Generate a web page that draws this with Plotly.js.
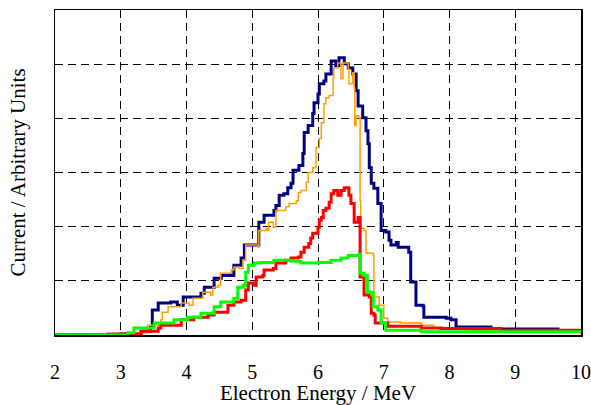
<!DOCTYPE html>
<html>
<head>
<meta charset="utf-8">
<script src="https://cdn.plot.ly/plotly-3.0.1.min.js"></script>
<style>html,body{margin:0;padding:0;background:#fff;}#chart{width:591px;height:405px;}</style>
</head>
<body>
<div id="chart"></div>
<script>
// Electron energy (MeV) and current (arbitrary units) for each series
const navyX = [2.0,2.70,3.00,3.31,3.45,3.48,3.57,3.76,3.86,3.95,4.22,4.27,4.42,4.53,4.72,4.83,4.88,5.03,5.10,5.18,5.24,5.33,5.36,5.41,5.48,5.54,5.59,5.62,5.71,5.77,5.79,5.85,5.92,5.94,6.00,6.02,6.09,6.12,6.17,6.20,6.24,6.27,6.32,6.38,6.40,6.46,6.53,6.58,6.61,6.68,6.73,6.76,6.78,6.81,6.85,6.91,6.96,6.96,7.03,7.08,7.11,7.19,7.22,7.38,7.41,7.41,7.45,7.49,7.60,7.61,7.95,8.02,8.10,8.37,8.63,9.59,9.65,10.0];
const navyY = [0,0,0.02,0.07,0.15,0.46,0.59,0.61,0.55,0.70,0.77,0.88,1.05,1.10,1.29,1.42,1.66,1.66,2.08,2.21,2.21,2.30,2.39,2.58,2.61,2.72,2.80,3.04,3.13,3.35,3.74,3.87,4.09,4.29,4.45,4.64,4.69,4.82,4.82,5.06,5.06,4.97,5.12,5.12,5.01,4.93,4.82,4.51,4.23,4.01,3.77,3.53,3.09,2.80,2.71,2.43,2.36,1.93,1.90,1.75,1.66,1.71,1.62,1.53,1.20,0.98,0.98,0.55,0.52,0.33,0.31,0.28,0.15,0.15,0.11,0.11,0.07,0.06];

const orangeX = [2.0,2.85,3.16,3.41,3.61,3.63,3.72,3.89,3.92,4.04,4.10,4.22,4.25,4.37,4.40,4.48,4.52,4.68,4.72,4.80,4.86,4.90,5.09,5.10,5.21,5.24,5.25,5.32,5.36,5.44,5.51,5.56,5.67,5.70,5.74,5.82,5.85,5.92,5.97,6.02,6.05,6.09,6.12,6.17,6.23,6.24,6.30,6.35,6.38,6.43,6.46,6.47,6.53,6.55,6.56,6.58,6.62,6.64,6.65,6.70,6.73,6.84,6.85,6.93,7.00,7.06,7.26,7.57,7.72,7.76,8.28,8.33,9.24,9.29,10.0];
const orangeY = [0,0,0.04,0.18,0.28,0.42,0.52,0.52,0.59,0.55,0.68,0.68,0.79,0.74,0.88,0.92,1.14,1.20,1.25,1.23,1.38,1.66,1.62,1.93,1.97,1.93,2.08,1.99,2.30,2.30,2.37,2.43,2.48,2.63,2.67,2.82,3.00,3.09,3.46,3.63,3.92,4.27,4.38,4.42,4.75,4.93,5.02,4.73,5.02,5.02,4.91,4.64,4.84,4.56,3.87,4.05,4.01,2.48,1.97,1.93,1.51,1.47,0.70,0.55,0.31,0.24,0.22,0.18,0.18,0.13,0.13,0.09,0.09,0.06,0.06];

const redX = [2.0,2.70,2.81,3.31,3.57,3.61,3.92,4.11,4.33,4.42,4.63,4.72,4.83,4.90,4.94,5.03,5.06,5.16,5.18,5.32,5.36,5.51,5.59,5.70,5.74,5.79,5.86,5.89,5.92,6.00,6.02,6.05,6.08,6.12,6.17,6.20,6.24,6.30,6.35,6.40,6.46,6.47,6.50,6.55,6.55,6.61,6.64,6.64,6.70,6.70,6.78,6.81,6.85,6.87,7.06,7.57,7.87,8.78,10.0];
const redY = [0,0,0.02,0.07,0.13,0.18,0.28,0.33,0.37,0.42,0.55,0.61,0.64,0.83,0.96,0.92,1.07,1.10,1.20,1.23,1.33,1.38,1.42,1.44,1.53,1.62,1.69,1.79,1.88,1.99,2.12,2.17,2.30,2.34,2.45,2.61,2.67,2.58,2.67,2.72,2.71,2.58,2.43,2.30,2.08,2.17,2.17,1.07,1.01,0.74,0.70,0.40,0.37,0.22,0.16,0.13,0.12,0.09,0.04];

const greenX = [2.0,2.93,3.11,3.20,3.51,3.81,4.02,4.22,4.42,4.52,4.72,4.78,4.86,4.90,4.94,5.03,5.13,5.33,5.59,5.74,5.85,6.00,6.20,6.35,6.46,6.62,6.64,6.70,6.75,6.81,6.84,6.91,6.96,7.03,7.26,7.57,10.0];
const greenY = [0,0,0.04,0.13,0.22,0.28,0.33,0.40,0.52,0.61,0.68,0.88,0.92,1.16,1.29,1.33,1.34,1.38,1.36,1.33,1.33,1.34,1.38,1.42,1.47,1.49,1.14,1.10,0.79,0.77,0.52,0.46,0.22,0.09,0.09,0.06,0.02];

const xTicks = [2,3,4,5,6,7,8,9,10];

const traces = [
  {x: navyX, y: navyY, mode: 'lines', line: {color: '#000080', width: 3, shape: 'hv'}},
  {x: orangeX, y: orangeY, mode: 'lines', line: {color: '#FFA000', width: 1.5, shape: 'hv'}},
  {x: redX, y: redY, mode: 'lines', line: {color: '#FF0000', width: 3, shape: 'hv'}},
  {x: greenX, y: greenY, mode: 'lines', line: {color: '#00FF00', width: 3, shape: 'hv'}}
];

const fontFam = 'Times New Roman, Liberation Serif, Times, serif';
const layout = {
  width: 591, height: 405,
  margin: {l: 55, r: 10, t: 10, b: 70},
  paper_bgcolor: '#fff', plot_bgcolor: '#fff',
  showlegend: false,
  font: {family: fontFam, color: '#000', size: 20},
  xaxis: {
    range: [2, 10], tickvals: xTicks, ticktext: xTicks.map(String),
    showgrid: true, gridcolor: '#000', gridwidth: 1, griddash: '8px,5px',
    showline: true, linecolor: '#000', linewidth: 1.5, mirror: true,
    ticks: '', zeroline: false, ticklabelstandoff: 18,
    tickfont: {family: fontFam, size: 20, color: '#000'},
    title: {text: 'Electron Energy / MeV', font: {family: fontFam, size: 21, color: '#000'}, standoff: 2},
    automargin: false
  },
  yaxis: {
    range: [0, 6], dtick: 1, tick0: 0,
    showgrid: true, gridcolor: '#000', gridwidth: 1, griddash: '8px,5px',
    showline: true, linecolor: '#000', linewidth: 1.5, mirror: true,
    ticks: '', zeroline: false, showticklabels: false,
    title: {text: 'Current / Arbitrary Units', font: {family: fontFam, size: 21, color: '#000'}, standoff: 22},
    automargin: false
  }
};

Plotly.newPlot('chart', traces, layout, {staticPlot: true, displayModeBar: false});
</script>
</body>
</html>
